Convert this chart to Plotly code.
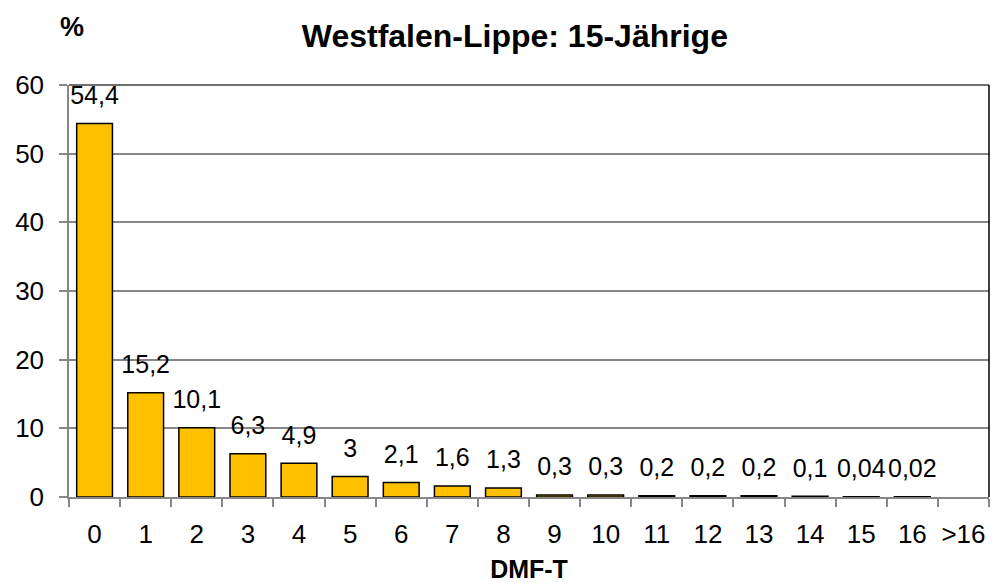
import plotly.graph_objects as go

# DMF-T Verteilung, 15-Jährige in Westfalen-Lippe
categories = ["0", "1", "2", "3", "4", "5", "6", "7", "8", "9", "10",
              "11", "12", "13", "14", "15", "16", ">16"]
percent = [54.4, 15.2, 10.1, 6.3, 4.9, 3, 2.1, 1.6, 1.3, 0.3, 0.3,
           0.2, 0.2, 0.2, 0.1, 0.04, 0.02, None]
labels = ["54,4", "15,2", "10,1", "6,3", "4,9", "3", "2,1", "1,6", "1,3", "0,3", "0,3",
          "0,2", "0,2", "0,2", "0,1", "0,04", "0,02", ""]
y_ticks = [0, 10, 20, 30, 40, 50, 60]

font = "Liberation Sans, Arial, sans-serif"

fig = go.Figure()
fig.add_trace(go.Bar(
    x=categories, y=percent,
    marker=dict(color="#FFC000", line=dict(color="black", width=1.5)),
    width=0.7, hoverinfo="skip",
))
# value labels as a text layer (bar text would shrink to bar width)
fig.add_trace(go.Scatter(
    x=categories, y=percent, text=labels, mode="markers+text",
    textposition="top center", cliponaxis=False,
    marker=dict(size=20, color="rgba(0,0,0,0)"),
    textfont=dict(size=25, color="black", family=font),
))

fig.update_layout(
    width=992, height=583,
    margin=dict(l=69, r=3, t=85, b=86),
    plot_bgcolor="white", paper_bgcolor="white",
    font=dict(family=font, size=26, color="black"),
    showlegend=False,
    title=dict(text="<b>Westfalen-Lippe: 15-Jährige</b>", x=0.519, xanchor="center",
               y=0.938, yanchor="middle", font=dict(size=32)),
)
fig.update_xaxes(
    type="category", range=[-0.5, len(categories) - 0.5],
    tickson="boundaries", ticks="outside", ticklen=8,
    tickcolor="#878787", tickwidth=1.5, tickangle=0, automargin=False,
    showline=True, linecolor="#878787", linewidth=1.5,
    showgrid=False, ticklabelstandoff=13,
    title=dict(text="<b>DMF-T</b>", font=dict(size=25), standoff=17),
)
fig.update_yaxes(
    range=[0, 60], tickvals=y_ticks, ticks="outside", ticklen=8,
    tickcolor="#878787", tickwidth=1.5, automargin=False,
    showline=True, linecolor="#878787", linewidth=1.5,
    showgrid=True, gridcolor="#878787", gridwidth=1.5,
    zeroline=False, ticklabelstandoff=10,
)

# dark frame on top and right
fig.add_shape(type="line", xref="paper", yref="paper", x0=0, x1=1, y0=1, y1=1,
              line=dict(color="#404040", width=1.5))
fig.add_shape(type="line", xref="paper", yref="paper", x0=1, x1=1, y0=0, y1=1,
              line=dict(color="black", width=1.5))

fig.add_annotation(text="<b>%</b>", xref="paper", yref="paper", x=0.003, y=1.14,
                   xanchor="center", yanchor="middle", showarrow=False,
                   font=dict(size=27))

fig.write_html("out.html", config={"displayModeBar": False},
               post_script="document.body.style.margin='0';")
